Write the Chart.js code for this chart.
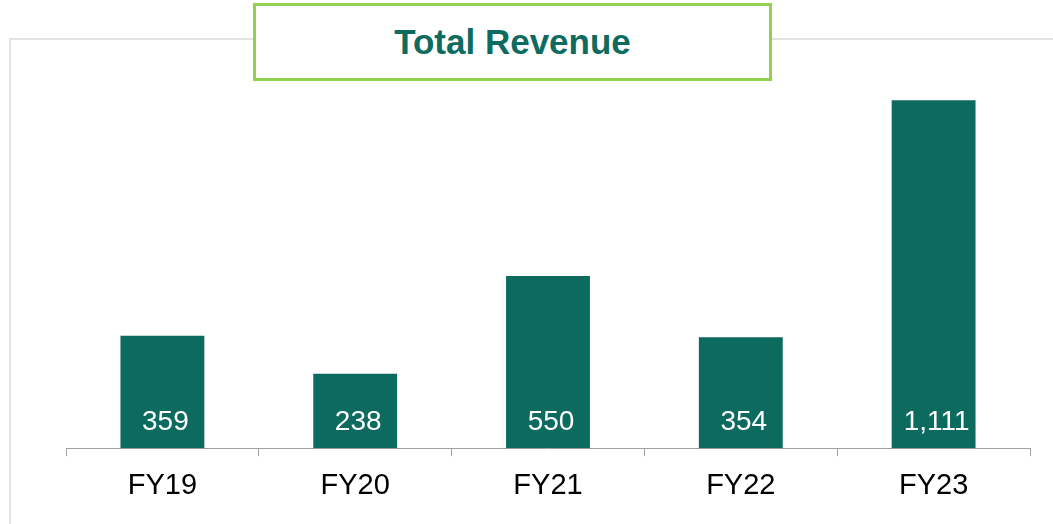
<!DOCTYPE html>
<html>
<head>
<meta charset="utf-8">
<script src="https://cdn.jsdelivr.net/npm/chart.js@4/dist/chart.umd.min.js"></script>
<style>
	html, body { margin: 0; padding: 0; background: #fff; }
	#wrap { position: relative; width: 1053px; height: 524px; overflow: hidden; font-family: 'Liberation Sans', Arial, sans-serif; }
	#frame { position: absolute; left: 9px; top: 38px; width: 1100px; height: 600px; border-left: 2px solid #E3E3E3; border-top: 2px solid #E3E3E3; }
	#chart-box { position: absolute; left: 0; top: 0; width: 1053px; height: 524px; }
	#title-box { position: absolute; left: 253px; top: 3px; width: 513px; height: 72px; border: 3px solid #92D050; background: #fff;
		color: #0E6B5F; font-weight: bold; font-size: 35px; line-height: 72px; text-align: center; }
</style>
</head>
<body>
<div id="wrap">
	<div id="frame"></div>
	<div id="chart-box"><canvas id="revenue-chart"></canvas></div>
	<div id="title-box">Total Revenue</div>
</div>
<script>
var categories = ['FY19', 'FY20', 'FY21', 'FY22', 'FY23'];
var revenue = [359, 238, 550, 354, 1111];

var bar_color = '#0C6A5E';

// white value labels sitting at the bottom of each bar
var value_labels = {
	id: 'value_labels',
	afterDatasetsDraw: function(chart) {
		var ctx = chart.ctx;
		var meta = chart.getDatasetMeta(0);
		ctx.save();
		ctx.fillStyle = '#fff';
		ctx.font = "28px 'Liberation Sans', Arial, sans-serif";
		ctx.textAlign = 'center';
		ctx.textBaseline = 'middle';
		meta.data.forEach(function(bar, i) {
			ctx.fillText(revenue[i].toLocaleString('en-US'), bar.x + 3, bar.base - 26);
		});
		ctx.restore();
	}
};

new Chart(document.getElementById('revenue-chart'), {
	type: 'bar',
	data: {
		labels: categories,
		datasets: [{
			data: revenue,
			backgroundColor: bar_color,
			borderWidth: 0,
			categoryPercentage: 1,
			barPercentage: 0.435
		}]
	},
	options: {
		responsive: true,
		maintainAspectRatio: false,
		animation: false,
		layout: { padding: { left: 66, right: 23, top: 41, bottom: 9 } },
		plugins: {
			legend: { display: false },
			tooltip: { enabled: false }
		},
		scales: {
			x: {
				offset: true,
				grid: {
					offset: true,
					drawOnChartArea: false,
					drawTicks: true,
					tickLength: 8,
					color: '#A0A0A0',
					lineWidth: 1
				},
				border: { color: '#A0A0A0', width: 1 },
				ticks: {
					color: '#000',
					padding: 12,
					font: { family: "'Liberation Sans', Arial, sans-serif", size: 29 }
				}
			},
			y: {
				display: false,
				min: 0,
				max: 1300
			}
		}
	},
	plugins: [value_labels]
});
</script>
</body>
</html>
